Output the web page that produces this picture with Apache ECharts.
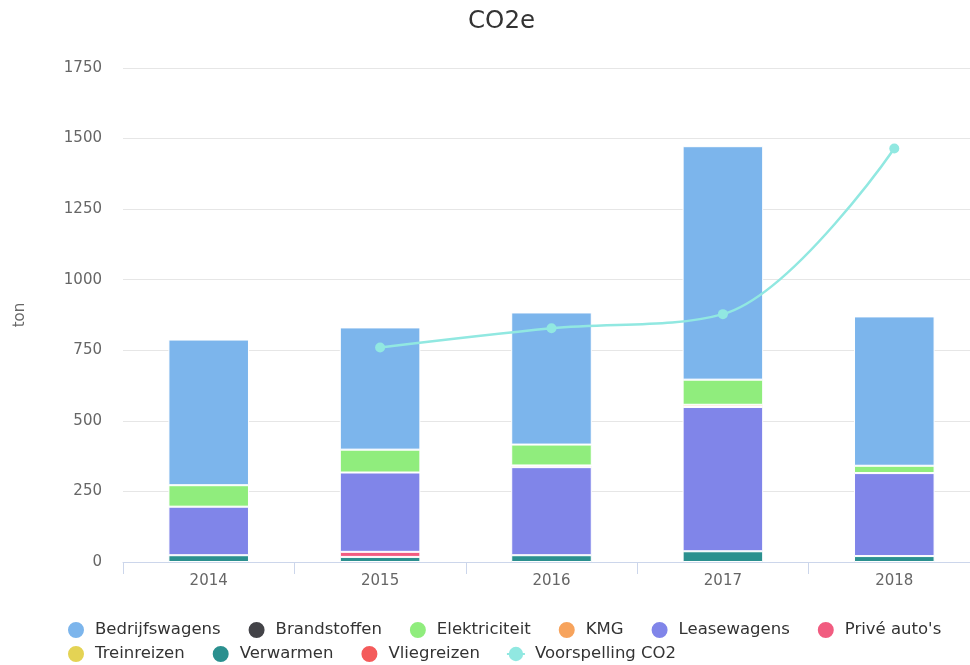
<!DOCTYPE html>
<html>
<head>
<meta charset="utf-8">
<script src="https://cdn.jsdelivr.net/npm/echarts@6/dist/echarts.min.js"></script>
<style>
html,body{margin:0;padding:0;background:#fff;}
#chart{width:970px;height:665px;}
</style>
</head>
<body>
<div id="chart"></div>
<script>
var categories = ['2014', '2015', '2016', '2017', '2018'];
var yTicks = [0, 250, 500, 750, 1000, 1250, 1500, 1750];

var bedrijfswagens = [516, 433, 468, 827, 529];
var brandstoffen   = [null, null, null, null, null];
var elektriciteit  = [76, 81, 74, 89, 26];
var kmg            = [null, null, 6, 8, null];
var leasewagens    = [172, 281, 312, 511, 294];
var priveAutos     = [null, 18, null, null, null];
var treinreizen    = [null, null, null, null, null];
var verwarmen      = [24, 18, 24, 38, 21];
var vliegreizen    = [null, null, null, null, null];
var voorspelling   = [null, 760, 828, 878, 1465];

var seriesNames = ['Bedrijfswagens', 'Brandstoffen', 'Elektriciteit', 'KMG', 'Leasewagens',
                   "Privé auto's", 'Treinreizen', 'Verwarmen', 'Vliegreizen', 'Voorspelling CO2'];
var colors = {
  'Bedrijfswagens': '#7cb5ec',
  'Brandstoffen': '#434348',
  'Elektriciteit': '#90ed7d',
  'KMG': '#f7a35c',
  'Leasewagens': '#8085e9',
  "Privé auto's": '#f15c80',
  'Treinreizen': '#e4d354',
  'Verwarmen': '#2b908f',
  'Vliegreizen': '#f45b5b',
  'Voorspelling CO2': '#91e8e1'
};

var barData = {
  'Bedrijfswagens': bedrijfswagens,
  'Brandstoffen': brandstoffen,
  'Elektriciteit': elektriciteit,
  'KMG': kmg,
  'Leasewagens': leasewagens,
  "Privé auto's": priveAutos,
  'Treinreizen': treinreizen,
  'Verwarmen': verwarmen,
  'Vliegreizen': vliegreizen
};

// stacking: first legend item on top, so build series bottom-up (reverse order)
var barOrder = seriesNames.slice(0, 9).reverse();
var series = barOrder.map(function (name) {
  return {
    name: name,
    type: 'bar',
    stack: 'total',
    barWidth: '47%',
    data: barData[name].map(function (v) { return v === null ? '-' : v; }),
    itemStyle: { color: colors[name], borderColor: '#ffffff', borderWidth: 1 }
  };
});
series.push({
  name: 'Voorspelling CO2',
  type: 'line',
  smooth: 0.35,
  data: voorspelling.map(function (v) { return v === null ? '-' : v; }),
  symbol: 'circle',
  symbolSize: 10,
  lineStyle: { color: colors['Voorspelling CO2'], width: 2.5 },
  itemStyle: { color: colors['Voorspelling CO2'] },
  z: 10
});

var legendText = { color: '#333333', fontSize: 16.5, fontFamily: 'DejaVu Sans', padding: [0, 0, 0, 5] };
function legendItems(names) {
  return names.map(function (n) {
    return n === 'Voorspelling CO2' ? { name: n } : { name: n, icon: 'circle' };
  });
}

var chart = echarts.init(document.getElementById('chart'), null, { renderer: 'canvas' });
chart.setOption({
  animation: false,
  backgroundColor: '#ffffff',
  color: seriesNames.map(function (n) { return colors[n]; }),
  title: {
    text: 'CO2e',
    left: 463,
    top: 4,
    textStyle: { color: '#333333', fontSize: 24.5, fontWeight: 'normal', fontFamily: 'DejaVu Sans' }
  },
  legend: [
    {
      data: legendItems(seriesNames.slice(0, 6)),
      left: 61, top: 615,
      itemWidth: 18, itemHeight: 18, itemGap: 26,
      textStyle: legendText
    },
    {
      data: legendItems(seriesNames.slice(6)),
      left: 61, top: 639,
      itemWidth: 18, itemHeight: 18, itemGap: 26,
      textStyle: legendText
    }
  ],
  grid: { left: 123, right: -10, top: 68, bottom: 103, containLabel: false, outerBoundsMode: 'none' },
  xAxis: {
    type: 'category',
    data: categories,
    axisLine: { lineStyle: { color: '#ccd6eb', width: 1 } },
    axisTick: { show: true, length: 12, lineStyle: { color: '#ccd6eb' } },
    axisLabel: { color: '#666666', fontSize: 15, fontFamily: 'DejaVu Sans', margin: 12 },
    splitLine: { show: false }
  },
  yAxis: {
    type: 'value',
    min: yTicks[0],
    max: yTicks[yTicks.length - 1],
    interval: 250,
    name: 'ton',
    nameLocation: 'middle',
    nameRotate: 90,
    nameGap: 95,
    nameTextStyle: { color: '#666666', fontSize: 15, fontFamily: 'DejaVu Sans' },
    axisLine: { show: false },
    axisTick: { show: false },
    axisLabel: {
      color: '#666666', fontSize: 15, fontFamily: 'DejaVu Sans', margin: 21,
      formatter: function (v) { return String(v); }
    },
    splitLine: { lineStyle: { color: '#e6e6e6', width: 1 } }
  },
  series: series
});
</script>
</body>
</html>
